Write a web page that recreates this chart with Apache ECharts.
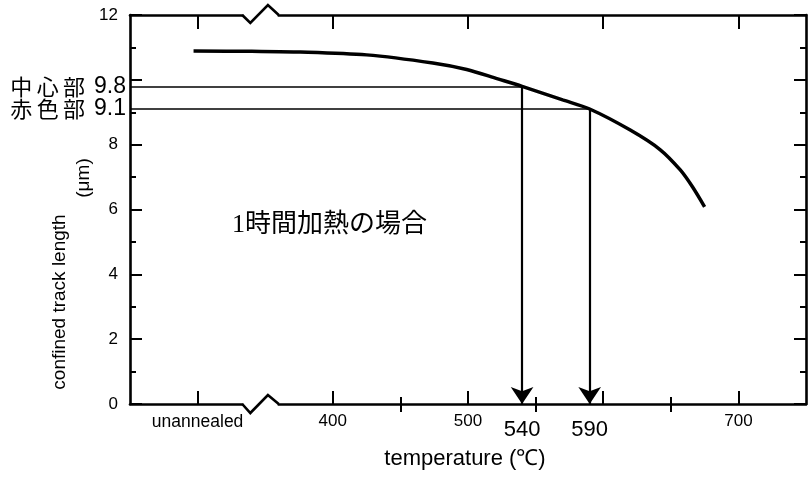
<!DOCTYPE html>
<html><head><meta charset="utf-8">
<script src="https://cdn.jsdelivr.net/npm/echarts@6.0.0/dist/echarts.min.js"></script>
<style>html,body{margin:0;padding:0;background:#fff}#c{width:809px;height:478px}</style>
</head><body><div id="c"></div>
<script>
// ---- data ----
const curveTemps   = [297, 340, 376, 425, 474, 499, 522, 540, 570, 590, 620, 642, 657, 666, 675];
const curveLengths = [10.89, 10.88, 10.86, 10.77, 10.52, 10.32, 10.03, 9.8, 9.38, 9.1, 8.45, 7.85, 7.22, 6.7, 6.08];
const markTemps    = [540, 590];
const markLengths  = [9.8, 9.1];
const markNames    = ['中心部', '赤色部'];
const xMajorTicks  = [300, 400, 500, 600, 700];
const xMinorTicks  = [450, 550, 650];
const xLabelValues = [300, 400, 500, 700];
const xLabelTexts  = ['unannealed', '400', '500', '700'];
const yMajorTicks  = [0, 2, 4, 6, 8, 10, 12];
const yMinorTicks  = [1, 3, 5, 7, 9, 11];
const yLabelValues = [0, 2, 4, 6, 8, 12];
const xBreak       = [333, 339, 352, 360]; // zigzag on temperature axis

const X_MIN = 250, X_MAX = 750, Y_MIN = 0, Y_MAX = 12;
const LATIN = 'Liberation Sans, Arial, sans-serif';
const CJK = 'Noto Sans CJK JP, sans-serif';

const chart = echarts.init(document.getElementById('c'), null, {renderer: 'canvas'});

function xAx(opts) {
  return Object.assign({
    type: 'value', min: X_MIN, max: X_MAX, interval: 50, gridIndex: 0,
    splitLine: {show: false},
    axisLine: {show: false},
  }, opts);
}
function yAx(opts) {
  return Object.assign({
    type: 'value', min: Y_MIN, max: Y_MAX, interval: 1, gridIndex: 0,
    splitLine: {show: false},
    axisLine: {show: false},
  }, opts);
}
const axisLineStyle = {show: true, onZero: false, lineStyle: {color: '#000', width: 2.6}};
const noLabel = {show: false};

// one left axis per marked length, carrying its "中心部 9.8"-style label
const markAxes = markLengths.map((v, i) => yAx({position: 'left',
  axisTick: {show: false},
  axisLabel: {show: true, hideOverlap: false, customValues: [v], margin: 4, color: '#000',
    formatter: () => '{c|' + markNames[i].split('').join('\u2009') + '}{n|' + v.toFixed(1) + '}',
    rich: {c: {fontFamily: CJK, fontSize: 22, lineHeight: 20, color: '#000'},
           n: {fontFamily: LATIN, fontSize: 23, lineHeight: 20, color: '#000', padding: [0, 0, 0, 9]}}}}));

const option = {
  animation: false,
  backgroundColor: '#fff',
  grid: {left: 130, right: 3, top: 15, bottom: 74},
  xAxis: [
    xAx({position: 'bottom', axisLine: axisLineStyle,
      axisTick: {show: true, inside: true, length: 13, customValues: xMajorTicks, lineStyle: {color: '#000', width: 2}},
      axisLabel: {show: true, hideOverlap: false, customValues: xLabelValues, margin: 9, color: '#000', fontSize: 17, fontFamily: LATIN,
        formatter: v => {
          const t = xLabelTexts[xLabelValues.indexOf(v)] || '';
          return /^\d+$/.test(t) ? t : '{u|' + t + '}';
        },
        rich: {u: {fontSize: 17.5, fontFamily: LATIN, color: '#000'}}}}),
    xAx({position: 'bottom',
      axisTick: {show: true, inside: true, length: 7, customValues: xMinorTicks, lineStyle: {color: '#000', width: 2}},
      axisLabel: {show: true, hideOverlap: false, customValues: markTemps, margin: 15, color: '#000', fontSize: 22, fontFamily: LATIN,
        formatter: v => String(v)}}),
    xAx({position: 'top', axisLine: axisLineStyle,
      axisTick: {show: true, inside: true, length: 14, customValues: xMajorTicks, lineStyle: {color: '#000', width: 2}},
      axisLabel: noLabel}),
    xAx({position: 'top',
      axisTick: {show: true, inside: true, length: 8, customValues: xMinorTicks, lineStyle: {color: '#000', width: 2}},
      axisLabel: noLabel})
  ],
  yAxis: [
    yAx({position: 'left', axisLine: axisLineStyle,
      axisTick: {show: true, inside: true, length: 12, customValues: yMajorTicks, lineStyle: {color: '#000', width: 2}},
      axisLabel: {show: true, hideOverlap: false, customValues: yLabelValues, margin: 12, color: '#000', fontSize: 17, fontFamily: LATIN,
        formatter: v => String(v)}}),
    yAx({position: 'left',
      axisTick: {show: true, inside: true, length: 6, customValues: yMinorTicks, lineStyle: {color: '#000', width: 2}},
      axisLabel: noLabel}),
    yAx({position: 'right', axisLine: axisLineStyle,
      axisTick: {show: true, inside: true, length: 12, customValues: yMajorTicks, lineStyle: {color: '#000', width: 2}},
      axisLabel: noLabel}),
    yAx({position: 'right',
      axisTick: {show: true, inside: true, length: 6, customValues: yMinorTicks, lineStyle: {color: '#000', width: 2}},
      axisLabel: noLabel})
  ].concat(markAxes),
  series: [
    {
      type: 'line', xAxisIndex: 0, yAxisIndex: 0,
      data: curveTemps.map((t, i) => [t, curveLengths[i]]),
      smooth: 0.3, showSymbol: false, symbol: 'none',
      lineStyle: {color: '#000', width: 3.5}, z: 5
    },
    {
      type: 'lines', coordinateSystem: 'cartesian2d', xAxisIndex: 0, yAxisIndex: 0,
      symbol: ['none', 'none'],
      lineStyle: {color: '#000', width: 1.6, opacity: 1},
      data: markTemps.map((t, i) => ({coords: [[X_MIN, markLengths[i]], [t, markLengths[i]]]})),
      z: 4
    },
    {
      type: 'lines', coordinateSystem: 'cartesian2d', xAxisIndex: 0, yAxisIndex: 0,
      symbol: ['none', 'arrow'], symbolSize: [8, 17],
      lineStyle: {color: '#000', width: 2.2, opacity: 1},
      data: markTemps.map((t, i) => ({coords: [[t, markLengths[i]], [t, Y_MIN]]})),
      z: 4
    }
  ]
};
chart.setOption(option);

// decorations: axis break zigzags, annotation and axis titles
function px(x, y) { return chart.convertToPixel({xAxisIndex: 0, yAxisIndex: 0}, [x, y]); }
const yb = px(X_MIN, Y_MIN)[1], yt = px(X_MIN, Y_MAX)[1];
const bx = xBreak.map(v => px(v, 0)[0]);
const g = [];
[[yb, 9, -9], [yt, 8, -10]].forEach(([y, d1, d2]) => {
  g.push({type: 'rect', shape: {x: bx[0] + 1, y: y - 3, width: bx[3] - bx[0] - 2, height: 6}, style: {fill: '#fff'}, z: 100});
  g.push({type: 'polyline', shape: {points: [[bx[0], y], [bx[1], y + d1], [bx[2], y + d2], [bx[3], y]]},
    style: {stroke: '#000', lineWidth: 2.6, fill: null}, z: 101});
});
g.push({type: 'text', x: 232, y: 225, z: 50,
  style: {text: '1時間加熱の場合', fill: '#000', font: '26px "Liberation Serif", "Noto Sans CJK JP"', textAlign: 'left', textVerticalAlign: 'middle'}});
g.push({type: 'text', x: 465, y: 459, z: 50,
  style: {text: 'temperature (℃)', fill: '#000', font: '22px "Liberation Sans"', textAlign: 'center', textVerticalAlign: 'middle'}});
g.push({type: 'text', x: 60, y: 302, rotation: Math.PI / 2, z: 50,
  style: {text: 'confined track length', fill: '#000', font: '19px "Liberation Sans"', textAlign: 'center', textVerticalAlign: 'middle'}});
g.push({type: 'text', x: 84, y: 178, rotation: Math.PI / 2, z: 50,
  style: {text: '(μm)', fill: '#000', font: '19px "Liberation Sans"', textAlign: 'center', textVerticalAlign: 'middle'}});
chart.setOption({graphic: g});
</script>
</body></html>
